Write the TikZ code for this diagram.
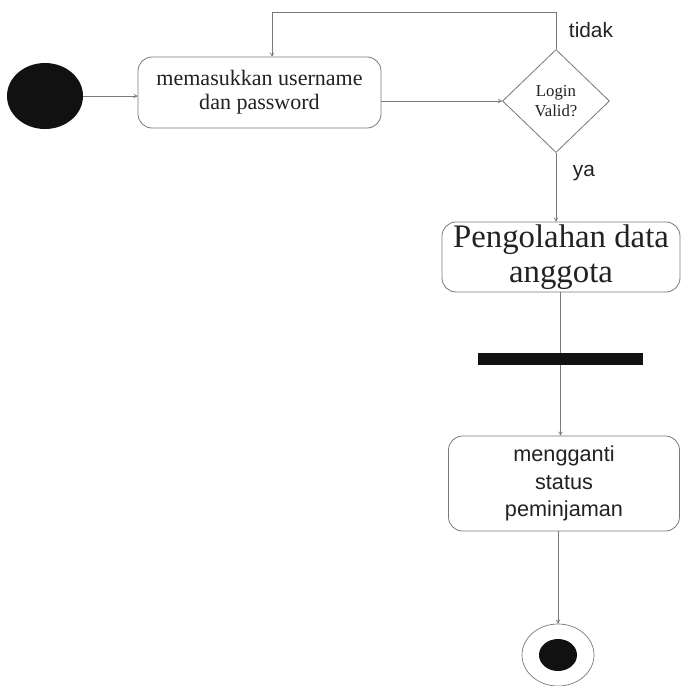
\documentclass[tikz,border=0pt]{standalone}
\usepackage{fontspec}
\setmainfont{Liberation Serif}
\newfontfamily\arialfont{Liberation Sans}
\usepackage{xcolor}
\usepackage{tikz}
\usetikzlibrary{shapes.geometric,arrows.meta}
\definecolor{bg}{HTML}{FFFFFF}
\definecolor{ink}{HTML}{111111}
\definecolor{edge}{HTML}{7A7A7A}
\definecolor{txt}{HTML}{222222}
\tikzset{
  act/.style={draw=edge, line width=0.7pt, rounded corners=12pt, align=center, text=txt, inner sep=0pt},
  decision/.style={diamond, draw=edge, line width=0.7pt, align=center, text=txt, inner sep=0pt},
  syncbar/.style={rectangle, fill=ink, inner sep=0pt},
  flow/.style={draw=edge, line width=0.6pt, -{To[length=3.5pt,width=4pt]}},
  plain/.style={draw=edge, line width=0.6pt},
  lab/.style={text=txt, font=\arialfont\fontsize{17.8}{20}\selectfont}
}
\begin{document}
\begin{tikzpicture}[x=0.03cm, y=-0.03cm]
  \useasboundingbox[fill=bg] (0,0) rectangle (681,686);

  \node[ellipse, fill=ink, minimum width=2.28cm, minimum height=1.98cm] (start) at (45,96) {};
  \node[act, minimum width=7.29cm, minimum height=2.13cm,
        font=\fontsize{18.8}{20.5}\selectfont] (input) at (259.5,92.5) {memasukkan username\\dan password};
  \node[decision, minimum width=3.21cm, minimum height=3.09cm,
        font=\fontsize{14.3}{17}\selectfont] (valid) at (556,101) {Login\\Valid?};
  \node[act, minimum width=7.14cm, minimum height=2.1cm,
        font=\fontsize{28}{30}\selectfont] (olah) at (561,257) {Pengolahan data\\anggota};
  \node[syncbar, minimum width=4.95cm, minimum height=0.36cm] (fork) at (560.5,359) {};
  \node[act, minimum width=6.93cm, minimum height=2.85cm,
        font=\arialfont\fontsize{18.5}{23.5}\selectfont] (ganti) at (564,483.5) {mengganti\\status\\peminjaman};
  \node[ellipse, draw=edge, line width=0.6pt, minimum width=2.16cm, minimum height=1.86cm] (finish) at (558,655) {};
  \node[ellipse, fill=ink, minimum width=1.14cm, minimum height=0.96cm] (finishdot) at (558,655) {};
  \coordinate (loop) at (272,12);

  \draw[flow] (start.east) -- (start.east -| input.west);
  \draw[flow] (input.east |- valid.west) -- (valid.west);
  \draw[flow] (valid.north) |- (loop) -- (loop |- input.north);
  \draw[flow] (valid.south) -- (valid.south |- olah.north);
  \draw[plain] (fork |- olah.south) -- (fork.north);
  \draw[flow] (fork.south) -- (fork.south |- ganti.north);
  \draw[flow] (finish |- ganti.south) -- (finish.north);

  \node[lab] (tidak) at (591,30) {tidak};
  \node[lab] (ya) at (584,173) {ya};
\end{tikzpicture}
\end{document}
